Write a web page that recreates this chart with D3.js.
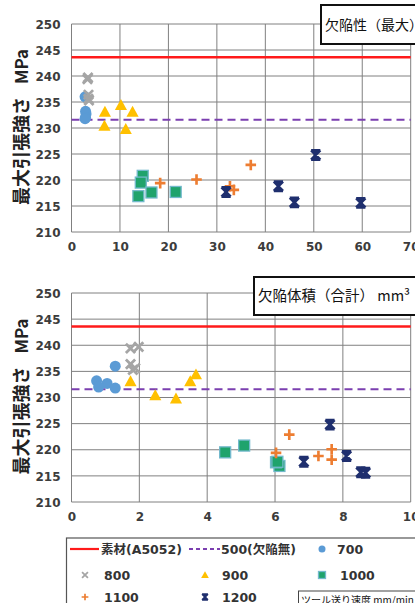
<!DOCTYPE html>
<html><head><meta charset="utf-8">
<script src="https://cdn.jsdelivr.net/npm/d3@7"></script>
<style>html,body{margin:0;padding:0;background:#fff;overflow:hidden}svg{display:block}</style>
</head><body>
<script>
// ---- data ----
const speeds = ["700","800","900","1000","1100","1200"];
const s700_strength = [236.0, 233.2, 232.7, 232.0, 231.8];
const s700_maxDefect = [2.8, 2.9, 3.0, 2.9, 2.8];
const s700_volDefect = [1.29, 0.74, 1.05, 0.80, 1.29];
const s800_strength = [239.4, 239.7, 236.4, 235.3, 235.6];
const s800_maxDefect = [3.3, 3.4, 3.5, 3.6, 3.5];
const s800_volDefect = [1.74, 1.98, 1.74, 1.81, 1.88];
const s900_strength = [233.1, 234.4, 233.1, 230.4, 229.8];
const s900_maxDefect = [6.9, 10.2, 12.6, 6.8, 11.2];
const s900_volDefect = [1.74, 3.67, 3.5, 2.47, 3.08];
const s1000_strength = [220.8, 219.5, 216.9, 217.6, 217.7];
const s1000_maxDefect = [14.7, 14.3, 13.8, 16.5, 21.5];
const s1000_volDefect = [5.09, 4.53, 6.13, 6.03, 6.07];
const s1100_strength = [219.4, 220.1, 218.8, 218.1, 222.9];
const s1100_maxDefect = [18.3, 25.8, 32.7, 33.5, 37.0];
const s1100_volDefect = [6.03, 7.67, 7.28, 7.67, 6.42];
const s1200_strength = [217.7, 218.8, 215.7, 224.8, 215.6];
const s1200_maxDefect = [31.9, 42.7, 46.0, 50.4, 59.7];
const s1200_volDefect = [6.85, 8.11, 8.53, 7.62, 8.67];
const baseMaterial = 243.6;   // 素材(A5052)
const defectFree500 = 231.6;  // 500(欠陥無)
const yTicks = [210,215,220,225,230,235,240,245,250];
const xTicks1 = [0,10,20,30,40,50,60,70];
const xTicks2 = [0,2,4,6,8,10];
const title1 = "欠陥性（最大） mm";
const title2 = "欠陥体積（合計） mm³";
const yTitleJa = "最大引張強さ";
const yTitleUnit = "MPa";
const legendBase = "素材(A5052)";
const legendFree = "500(欠陥無)";
const legendTitle = "ツール送り速度 mm/min";

const strengthArr = [s700_strength,s800_strength,s900_strength,s1000_strength,s1100_strength,s1200_strength];
const maxArr = [s700_maxDefect,s800_maxDefect,s900_maxDefect,s1000_maxDefect,s1100_maxDefect,s1200_maxDefect];
const volArr = [s700_volDefect,s800_volDefect,s900_volDefect,s1000_volDefect,s1100_volDefect,s1200_volDefect];

const colors = ["#5B9BD5","#A5A5A5","#FFC000","#1FA36C","#ED7D31","#1F2F6E"];
const shapes = ["circle","x","triangle","square","plus","star"];

const W = 415, H = 603;
const svg = d3.select("body").append("svg").attr("width",W).attr("height",H);
const FONT = "'DejaVu Sans','Noto Sans CJK JP',sans-serif";
const JFONT = "'Noto Sans CJK JP','DejaVu Sans',sans-serif";

function marker(g, shape, color, cx, cy, s) {
  const t = g.append("g").attr("transform",`translate(${cx},${cy})`);
  if (shape==="circle") t.append("circle").attr("r",s*0.5).attr("fill",color);
  else if (shape==="x") {
    const a=s*0.42;
    t.append("path").attr("d",`M${-a},${-a}L${a},${a}M${-a},${a}L${a},${-a}`).attr("stroke",color).attr("stroke-width",s*0.25).attr("fill","none");
  } else if (shape==="triangle") {
    const a=s*0.55;
    t.append("path").attr("d",`M0,${-a}L${a},${a*0.8}L${-a},${a*0.8}Z`).attr("fill",color);
  } else if (shape==="square") {
    const a=s*0.5;
    t.append("rect").attr("x",-a).attr("y",-a).attr("width",2*a).attr("height",2*a).attr("fill",color).attr("stroke","#73B9CC").attr("stroke-width",1.3);
  } else if (shape==="plus") {
    const a=s*0.48;
    t.append("path").attr("d",`M${-a},0L${a},0M0,${-a}L0,${a}`).attr("stroke",color).attr("stroke-width",s*0.24).attr("fill","none");
  } else if (shape==="star") {
    const a=s*0.42;
    t.append("path").attr("d",`M${-a},${-a}L${a},${a}M${-a},${a}L${a},${-a}M0,${-a}L0,${a}M${-a},${-a}L${a},${-a}M${-a},${a}L${a},${a}`).attr("stroke",color).attr("stroke-width",s*0.24).attr("fill","none");
  }
}

function panel(top, bottom, xmax, xTicks, xArrs, title, boxX, boxY, boxH, tSize) {
  const g = svg.append("g");
  const x = d3.scaleLinear().domain([0,xmax]).range([71.5,410.7]);
  const y = d3.scaleLinear().domain([210,250]).range([bottom,top]);
  // grid
  g.append("g").selectAll("line").data(yTicks).join("line")
    .attr("x1",x(0)).attr("x2",x(xmax)).attr("y1",d=>y(d)).attr("y2",d=>y(d))
    .attr("stroke","#808080").attr("stroke-width",1);
  g.append("g").selectAll("line").data(xTicks).join("line")
    .attr("x1",d=>x(d)).attr("x2",d=>x(d)).attr("y1",y(210)).attr("y2",y(250))
    .attr("stroke","#808080").attr("stroke-width",1);
  // axes labels via d3 axes
  const ya = g.append("g").attr("transform",`translate(${x(0)-11},0)`)
    .call(d3.axisLeft(y).tickValues(yTicks).tickSize(0).tickPadding(0));
  ya.select(".domain").remove();
  ya.selectAll("text").attr("font-family",FONT).attr("font-size",12).attr("font-weight","bold").attr("fill","#3c3c3c").attr("dy","0.35em");
  const xa = g.append("g").attr("transform",`translate(0,${bottom+10})`)
    .call(d3.axisBottom(x).tickValues(xTicks).tickSize(0).tickPadding(0).tickFormat(d3.format("d")));
  xa.select(".domain").remove();
  xa.selectAll("text").attr("font-family",FONT).attr("font-size",12).attr("font-weight","bold").attr("fill","#3c3c3c").attr("dy","0.71em");
  // reference lines
  g.append("line").attr("x1",x(0)).attr("x2",x(xmax)).attr("y1",y(baseMaterial)).attr("y2",y(baseMaterial))
    .attr("stroke","#FF1A1A").attr("stroke-width",2.5);
  g.append("line").attr("x1",x(0)).attr("x2",x(xmax)).attr("y1",y(defectFree500)).attr("y2",y(defectFree500))
    .attr("stroke","#7B3FB0").attr("stroke-width",2).attr("stroke-dasharray","8,5");
  // points
  const pg = g.append("g");
  speeds.forEach((sp,i)=>{
    strengthArr[i].forEach((v,j)=>{
      marker(pg, shapes[i], colors[i], x(xArrs[i][j]), y(v), 11);
    });
  });
  // title box
  g.append("rect").attr("x",boxX).attr("y",boxY).attr("width",200).attr("height",boxH)
    .attr("fill","#fff").attr("stroke","#111").attr("stroke-width",2);
  g.append("text").attr("x",boxX+4).attr("y",boxY+boxH/2).attr("dy","0.36em")
    .attr("font-family",JFONT).attr("font-size",tSize).attr("fill","#111").text(title);
  // y title
  const cy = (top+bottom)/2 - 1;
  const yt = g.append("text").attr("transform",`translate(22,${cy}) rotate(-90)`)
    .attr("text-anchor","middle").attr("dy","0.36em").attr("font-family",JFONT).attr("font-weight","bold").attr("fill","#222");
  yt.append("tspan").attr("font-size",18).text(yTitleJa);
  yt.append("tspan").attr("font-size",17).attr("dx",13).text(yTitleUnit);
}

panel(24, 232, 70, xTicks1, maxArr, title1, 321, 5, 39, 14);
panel(293, 502, 10, xTicks2, volArr, title2, 254, 277, 38, 14.5);

// legend
const lg = svg.append("g");
lg.append("rect").attr("x",66.5).attr("y",538).attr("width",400).attr("height",100).attr("fill","#fff").attr("stroke","#555").attr("stroke-width",1.2);
const lt = (x,y,t)=>lg.append("text").attr("x",x).attr("y",y).attr("dy","0.36em").attr("font-family",FONT).attr("font-weight","bold").attr("font-size",12.5).attr("fill","#333").text(t);
lg.append("line").attr("x1",70).attr("x2",99).attr("y1",549).attr("y2",549).attr("stroke","#FF1A1A").attr("stroke-width",2.2);
lt(101,549,legendBase);
lg.append("line").attr("x1",189).attr("x2",220).attr("y1",549).attr("y2",549).attr("stroke","#7B3FB0").attr("stroke-width",1.8).attr("stroke-dasharray","4,3");
lt(221,549,legendFree);
const legPos = [[322,549],[85,575],[205,575],[322,575],[85,597],[205,597]];
const legTextX = [337,104,222,340,104,222];
speeds.forEach((sp,i)=>{
  marker(lg, shapes[i], colors[i], legPos[i][0], legPos[i][1], 7);
  lt(legTextX[i], legPos[i][1], sp);
});
lg.append("rect").attr("x",298.5).attr("y",591).attr("width",150).attr("height",30).attr("fill","#fff").attr("stroke","#444").attr("stroke-width",1);
lg.append("text").attr("x",301).attr("y",601).attr("dy","0.3em").attr("font-family",JFONT).attr("font-size",10).attr("fill","#111").text(legendTitle);
</script>
</body></html>
